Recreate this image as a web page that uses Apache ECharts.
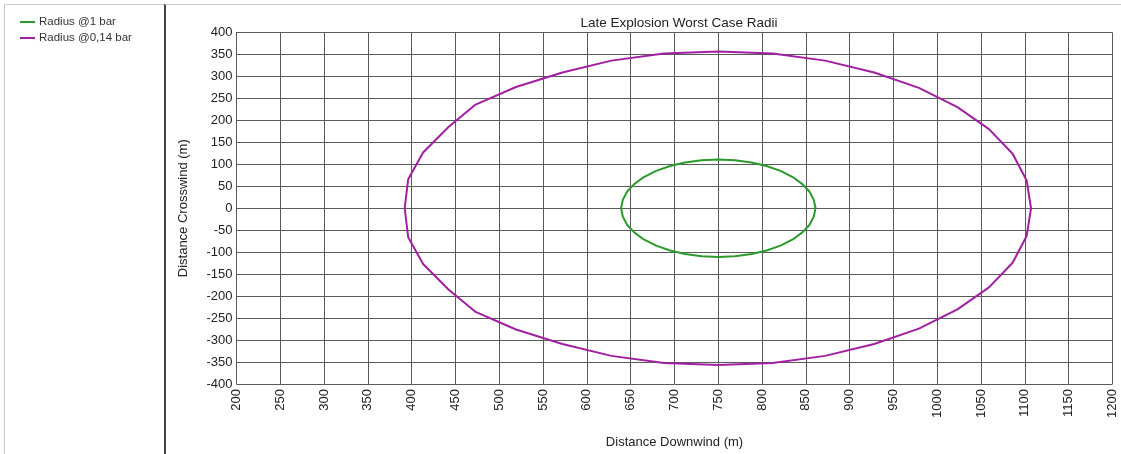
<!DOCTYPE html>
<html><head><meta charset="utf-8">
<script src="https://cdn.jsdelivr.net/npm/echarts@6/dist/echarts.min.js"></script>
<style>html,body{margin:0;padding:0;background:#fff}#c{width:1121px;height:454px}</style>
</head><body><div id="c"></div>
<script>
const title = "Late Explosion Worst Case Radii";
const xName = "Distance Downwind (m)";
const yName = "Distance Crosswind (m)";
const seriesNames = ["Radius @1 bar", "Radius @0,14 bar"];
const xTicks = {min: 200, max: 1200, step: 50};
const yTicks = {min: -400, max: 400, step: 50};
// Radius @1 bar outline (x downwind, y crosswind)
const radius1bar = [
  [861,0],[859,19],[854,38],[846,55],[835,71],[821,85],[805,96],[788,104],[769,109],[750,111],
  [731,109],[712,104],[695,96],[679,85],[665,71],[654,55],[646,38],[641,19],[639,0],
  [641,-19],[646,-38],[654,-55],[665,-71],[679,-85],[695,-96],[712,-104],[731,-109],[750,-111],
  [769,-109],[788,-104],[805,-96],[821,-85],[835,-71],[846,-55],[854,-38],[859,-19],[861,0]
];
// Radius @0,14 bar outline
const radius014bar = [
  [1107,0],[1102,63],[1086,124],[1059,180],[1023,230],[979,274],[928,309],[872,336],[812,352],[750,357],
  [688,352],[628,336],[572,309],[519,276],[473,236],[442,185],[413,127],[396,66],[392,0],
  [396,-66],[413,-127],[442,-185],[473,-236],[519,-276],[572,-309],[628,-336],[688,-352],[750,-357],
  [812,-352],[872,-336],[928,-309],[979,-274],[1023,-230],[1059,-180],[1086,-124],[1102,-63],[1107,0]
];
const colors = ["#2b9a2b", "#a11fa0"];

const chart = echarts.init(document.getElementById('c'), null, {renderer: 'canvas'});
const font = "'Liberation Sans', Arial, sans-serif";
const gridColor = "#5a5a5a";
chart.setOption({
  animation: false,
  backgroundColor: '#fff',
  textStyle: {fontFamily: font},
  title: {text: title, left: 674, top: 11, textAlign: 'center',
    textStyle: {fontSize: 13.5, fontWeight: 'normal', color: '#222', fontFamily: font}},
  legend: {
    orient: 'vertical', left: 15, top: 11, itemGap: 4, itemWidth: 15, itemHeight: 2,
    icon: 'rect', data: seriesNames,
    textStyle: {fontSize: 11.5, color: '#333', fontFamily: font, padding: [0,0,0,-1]}
  },
  graphic: [
    {type: 'rect', shape: {x: 4.5, y: 4.5, width: 161, height: 460}, style: {fill: 'none', stroke: '#c8c8c8', lineWidth: 1}},
    {type: 'line', shape: {x1: 165, y1: 4, x2: 165, y2: 454}, style: {stroke: '#444', lineWidth: 2}},
    {type: 'line', shape: {x1: 165, y1: 4.5, x2: 1121, y2: 4.5}, style: {stroke: '#c8c8c8', lineWidth: 1}}
  ],
  grid: {left: 236.5, right: 8.5, top: 32.5, bottom: 67.5, containLabel: false},
  xAxis: {
    type: 'value', min: xTicks.min, max: xTicks.max, interval: xTicks.step,
    name: xName, nameLocation: 'middle', nameGap: 52,
    nameTextStyle: {fontSize: 13, color: '#222', fontFamily: font},
    axisLine: {show: true, lineStyle: {color: gridColor, width: 1}},
    axisTick: {show: true, length: 4, lineStyle: {color: gridColor}},
    axisLabel: {rotate: 90, margin: 5, fontSize: 13, color: '#222', fontFamily: font,
      formatter: v => String(v)},
    splitLine: {show: true, lineStyle: {color: gridColor, width: 1}}
  },
  yAxis: {
    type: 'value', min: yTicks.min, max: yTicks.max, interval: yTicks.step,
    name: yName, nameLocation: 'middle', nameGap: 47, nameRotate: 90,
    nameTextStyle: {fontSize: 13, color: '#222', fontFamily: font},
    axisLine: {show: true, lineStyle: {color: gridColor, width: 1}},
    axisTick: {show: false},
    axisLabel: {margin: 4, fontSize: 13, color: '#222', fontFamily: font,
      formatter: v => String(v)},
    splitLine: {show: true, lineStyle: {color: gridColor, width: 1}}
  },
  series: [
    {name: seriesNames[0], type: 'line', data: radius1bar, symbol: 'none', smooth: false,
     lineStyle: {color: colors[0], width: 2}, itemStyle: {color: colors[0]}},
    {name: seriesNames[1], type: 'line', data: radius014bar, symbol: 'none', smooth: false,
     lineStyle: {color: colors[1], width: 2}, itemStyle: {color: colors[1]}}
  ]
});
</script></body></html>
